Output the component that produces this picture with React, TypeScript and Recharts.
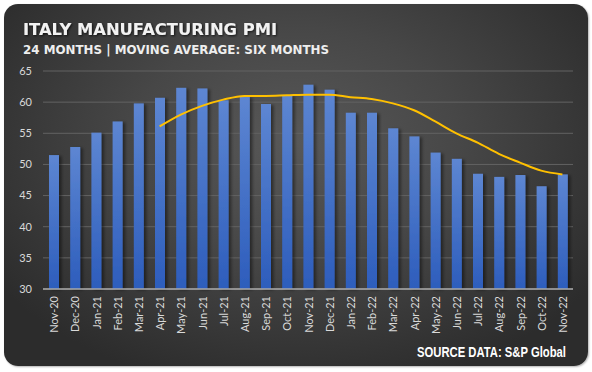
import React from 'react';
import { ComposedChart, Bar, Line, XAxis, YAxis, CartesianGrid } from 'recharts';

const months = ['Nov-20','Dec-20','Jan-21','Feb-21','Mar-21','Apr-21','May-21','Jun-21','Jul-21','Aug-21','Sep-21','Oct-21','Nov-21','Dec-21','Jan-22','Feb-22','Mar-22','Apr-22','May-22','Jun-22','Jul-22','Aug-22','Sep-22','Oct-22','Nov-22'];
const pmi = [51.5, 52.8, 55.1, 56.9, 59.8, 60.7, 62.3, 62.2, 60.3, 60.9, 59.7, 61.1, 62.8, 62.0, 58.3, 58.3, 55.8, 54.5, 51.9, 50.9, 48.5, 48.0, 48.3, 46.5, 48.4];
const movingAvg: (number | null)[] = [null, null, null, null, null, 56.1, 58.0, 59.4, 60.4, 61.0, 61.0, 61.1, 61.2, 61.2, 60.8, 60.5, 59.8, 58.7, 56.9, 55.0, 53.5, 51.7, 50.3, 49.0, 48.4];
const yTicks = [30, 35, 40, 45, 50, 55, 60, 65];

const data = months.map((m, i) => ({ month: m, pmi: pmi[i], ma: movingAvg[i] }));

const XTick = (props: any) => {
  const { x, y, payload } = props;
  return (
    <text
      transform={`translate(${x},${y + 7}) rotate(-90)`}
      textAnchor="end"
      dominantBaseline="central"
      fill="#d9d9d9"
      fontSize={11}
      fontFamily="Lato, sans-serif"
    >
      {payload.value}
    </text>
  );
};

const BarShape = (props: any) => {
  const { x, y, width, height } = props;
  return <rect x={x} y={y} width={width} height={height} fill="url(#barGrad)" filter="url(#barShadow)" />;
};

export default function App() {
  return (
    <div style={{ position: 'absolute', left: 0, top: 0, width: 592, height: 372, background: '#fff' }}>
      <div
        style={{
          position: 'absolute', left: 4, top: 4, width: 584, height: 362, borderRadius: 14,
          background: 'radial-gradient(ellipse 62% 70% at 50% 38%, #585858 0%, #474747 45%, #2c2c2c 100%)',
          boxShadow: '1px 1px 2px rgba(0,0,0,0.3)',
        }}
      />
      <svg width={592} height={372} style={{ position: 'absolute', left: 0, top: 0 }}>
        <defs>
          <filter id="txtShadow" x="-5%" y="-30%" width="110%" height="160%">
            <feDropShadow dx="1" dy="1" stdDeviation="0.8" floodColor="#000" floodOpacity="0.7" />
          </filter>
        </defs>
        <text x={23} y={34.5} fill="#f2f2f2" fontSize={16} fontWeight="bold" fontFamily="'DejaVu Sans', sans-serif" textLength={254} lengthAdjust="spacingAndGlyphs" filter="url(#txtShadow)">
          ITALY MANUFACTURING PMI
        </text>
        <text x={23} y={54} fill="#eeeeee" fontSize={13} fontWeight="bold" fontFamily="'DejaVu Sans', sans-serif" textLength={306} lengthAdjust="spacingAndGlyphs">
          24 MONTHS | MOVING AVERAGE: SIX MONTHS
        </text>
        <text transform="translate(417,357) scale(1,1.3)" x={0} y={0} fill="#ffffff" fontSize={11.5} fontWeight="bold" fontFamily="'Liberation Sans', Arial, sans-serif" textLength={149} lengthAdjust="spacingAndGlyphs">
          SOURCE DATA: S&amp;P Global
        </text>
      </svg>
      <div style={{ position: 'absolute', left: 0, top: 0 }}>
        <ComposedChart width={592} height={372} data={data} margin={{ top: 71, right: 19, bottom: 0, left: 0 }}>
          <defs>
            <linearGradient id="barGrad" x1="0" y1="0" x2="0" y2="1">
              <stop offset="0%" stopColor="#5d86d2" />
              <stop offset="100%" stopColor="#2d5dbc" />
            </linearGradient>
            <filter id="barShadow" x="-50%" y="-10%" width="200%" height="120%">
              <feDropShadow dx="2.5" dy="1" stdDeviation="1.5" floodColor="#000" floodOpacity="0.45" />
            </filter>
          </defs>
          <CartesianGrid vertical={false} stroke="#636363" strokeWidth={1} />
          <XAxis
            dataKey="month"
            interval={0}
            height={83}
            tick={<XTick />}
            tickLine={false}
            tickSize={0}
            tickMargin={0}
            axisLine={{ stroke: '#a8a8a8', strokeWidth: 1.3 }}
          />
          <YAxis
            domain={[30, 65]}
            ticks={yTicks}
            width={43}
            tickLine={false}
            axisLine={false}
            tickSize={0}
            tickMargin={11}
            tick={{ fill: '#d9d9d9', fontSize: 11, fontFamily: 'Lato, sans-serif' }}
          />
          <Bar dataKey="pmi" barSize={10} shape={<BarShape />} isAnimationActive={false} />
          <Line dataKey="ma" type="monotone" stroke="#ffc000" strokeWidth={2} dot={false} activeDot={false} isAnimationActive={false} />
        </ComposedChart>
      </div>
    </div>
  );
}
